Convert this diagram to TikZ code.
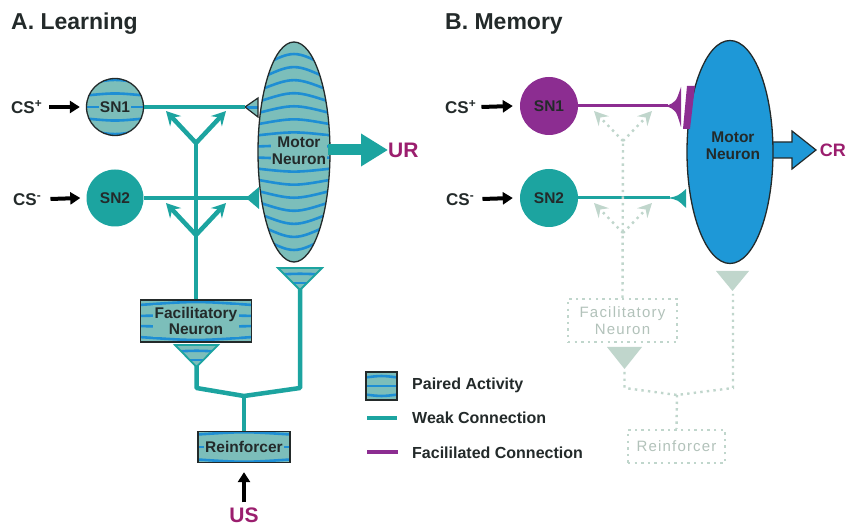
\documentclass[tikz,border=0pt]{standalone}
\usepackage{fontspec}
\setmainfont{Liberation Sans}
\usetikzlibrary{shapes.geometric,arrows.meta,calc}
\definecolor{teal1}{RGB}{28,164,160}
\definecolor{pbg}{RGB}{124,190,186}
\definecolor{stripeblue}{RGB}{30,142,212}
\definecolor{dark}{RGB}{35,42,42}
\definecolor{purp}{RGB}{140,45,145}
\definecolor{labp}{RGB}{155,30,110}
\definecolor{mblue}{RGB}{30,152,215}
\definecolor{fade}{RGB}{192,214,204}
\definecolor{fadetext}{RGB}{178,194,186}
\pgfdeclarelayer{back}
\pgfdeclarelayer{bg}
\pgfsetlayers{back,bg,main}
\tikzset{
 stripe/.style={draw=stripeblue, line width=2.6pt},
 striped/.style={path picture={
   \fill[pbg] (path picture bounding box.south west) rectangle (path picture bounding box.north east);
   \foreach \f in {#1} {
     \pgfmathsetmacro\g{\f+0.25*(\f-0.5)}
     \draw[stripe] ($(path picture bounding box.north west)!\f!(path picture bounding box.south west)+(-2,0)$) .. controls ($(path picture bounding box.north)!\g!(path picture bounding box.south)$) .. ($(path picture bounding box.north east)!\f!(path picture bounding box.south east)+(2,0)$);
   }}},
 title/.style={font=\fontsize{23}{26}\selectfont\bfseries, inner sep=0pt, anchor=west, text=dark},
 lab/.style={font=\fontsize{17}{19}\selectfont\bfseries, inner sep=0pt, anchor=west, text=dark},
 outlab/.style={font=\fontsize{21}{23}\selectfont\bfseries, text=labp, inner sep=0pt},
 ntext/.style={font=\fontsize{15.5}{18}\selectfont\bfseries, align=center, inner sep=1pt, text=dark},
 ktext/.style={ntext, fill=pbg},
 leg/.style={font=\fontsize{16}{18}\selectfont\bfseries, inner sep=0pt, anchor=west, text=dark},
 ftext/.style={font=\fontsize{15}{18}\selectfont\addfontfeatures{LetterSpace=8}, text=fadetext, align=center},
 weak/.style={draw=teal1, line width=3.5pt},
 weakv/.style={draw=teal1, line width=4.5pt, line join=round},
 facil/.style={draw=purp, line width=3pt},
 inarrow/.style={draw=black, line width=4pt, -{Triangle[length=10pt,width=12pt]}},
 branch/.style={draw=teal1, line width=4.5pt, -{Stealth[length=14pt,width=15pt,inset=5pt]}},
 dots/.style={draw=fade, line width=2.4pt, dash pattern=on 2.4pt off 4.2pt},
 fbranch/.style={dots, -{Stealth[length=14pt,width=14pt,inset=5pt,fill=fade]}},
 sncirc/.style={circle, minimum size=57pt, inner sep=0pt},
}
\begin{document}
\begin{tikzpicture}[x=1pt,y=-1pt]
\useasboundingbox (0,0) rectangle (847,526);
\begin{pgfonlayer}{back}
\fill[white] (0,0) rectangle (847,526);
\end{pgfonlayer}

% ================= Panel A =================
\node[title] (ta) at (11,24) {A. Learning};
\node[lab] (cspa) at (11,107) {CS\textsuperscript{+}};
\node[lab] (csma) at (13,200) {CS\textsuperscript{-}};

\node[sncirc, draw=dark, line width=1.3pt, striped={0.1,0.3,0.5,0.7,0.9}] (sn1a) at (115,107) {};
\node[ktext] at (sn1a) {SN1};
\node[sncirc, fill=teal1] (sn2a) at (115,198) {};
\node[ntext] at (sn2a) {SN2};

\node[ellipse, draw=dark, line width=1.3pt, minimum width=72pt, minimum height=220pt, inner sep=0pt,
      striped={0.025,0.075,...,0.98}] (mna) at (294,152) {};
\node[ktext] (mnat) at (299,151) {Motor\\[-1pt]Neuron};

\node[outlab, anchor=west] (ur) at (388,150) {UR};
\draw[draw=teal1, line width=11pt, -{Triangle[length=27pt,width=31pt]}] ($(mna.east)+(-3,-2)$) -- (ur.west);

\draw[inarrow] ($(cspa.east)+(7,0)$) -- ($(sn1a.west)+(-6,0)$);
\draw[inarrow] ($(csma.east)+(9,-1)$) -- ($(sn2a.west)+(-6,0)$);

% synapses onto motor neuron
\coordinate (s1a) at (245,107);
\path[draw=dark, line width=1.2pt, striped={0.5}] (245,107) -- (258,98) -- (258,117) -- cycle;
\draw[weak] (sn1a.east) -- (s1a);
\coordinate (s2a) at (248,198);
\fill[teal1] (246,198) -- (259,187) -- (259,209) -- cycle;
\draw[weak] (sn2a.east) -- (s2a);

% facilitatory neuron
\node[rectangle, draw=dark, line width=1.3pt, minimum width=111pt, minimum height=42pt,
      striped={0.12,0.38,0.62,0.88}] (faca) at (196,321) {};
\node[ktext, inner sep=2pt] at (faca) {Facilitatory\\[-2pt]Neuron};

\coordinate (ya1) at (196,143);
\coordinate (ya2) at (196,235);
\draw[weakv] (faca.north) -- (ya1);
\draw[branch] (ya1) -- (166,111);
\draw[branch] (ya1) -- (226,111);
\draw[branch] (ya2) -- (166,203);
\draw[branch] (ya2) -- (226,203);

% presynaptic terminals
\path[draw=teal1, line width=1.8pt, striped={0.3,0.68}] (175,345) -- (218,345) -- (196.5,367) -- cycle;
\coordinate (fta) at (196.5,366);
\path[draw=teal1, line width=1.8pt, striped={0.3,0.68}] (278,268) -- (322,268) -- (300,290) -- cycle;
\coordinate (mta) at (300,289);

\node[rectangle, draw=dark, line width=1.3pt, minimum width=92pt, minimum height=31pt,
      striped={0.1,0.5,0.9}] (reina) at (244,447) {};
\node[ktext, inner sep=1.5pt] at (reina) {Reinforcer};

\coordinate (jna) at (244,396);
\draw[weakv] (fta) -- (196.5,388) -- (jna) -- (300,388) -- (mta);
\draw[weakv] (jna) -- (reina.north);

\node[outlab] (usa) at (244,515) {US};
\draw[inarrow] ($(usa.north)+(0,-5)$) -- ($(reina.south)+(0,9)$);

% ================= Legend =================
\node[draw=dark, line width=1.2pt, minimum width=31pt, minimum height=28pt, inner sep=0pt,
      striped={0.2,0.5,0.8}] (legpa) at (381.5,386) {};
\node[leg] (legp) at (412,385) {Paired Activity};
\node[leg] (legw) at (412,418) {Weak Connection};
\node[leg] (legf) at (412,453) {Facililated Connection};
\draw[draw=teal1, line width=3.2pt] ($(legw.west)+(-45,0)$) -- ++(30,0);
\draw[draw=purp, line width=3.5pt] ($(legf.west)+(-45,-1)$) -- ++(31,0);

% ================= Panel B =================
\node[title] (tb) at (445,24) {B. Memory};
\node[lab] (cspb) at (445,107) {CS\textsuperscript{+}};
\node[lab] (csmb) at (446,200) {CS\textsuperscript{-}};

\node[sncirc, minimum size=58pt, fill=purp] (sn1b) at (549,106) {};
\node[ntext] at (sn1b) {SN1};
\node[sncirc, minimum size=58pt, fill=teal1] (sn2b) at (549,198) {};
\node[ntext] at (sn2b) {SN2};

\draw[inarrow] ($(cspb.east)+(5,0)$) -- ($(sn1b.west)+(-7,0)$);
\draw[inarrow] ($(csmb.east)+(8,-1)$) -- ($(sn2b.west)+(-7,0)$);

\node[ellipse, fill=mblue, draw=dark, line width=1.3pt, minimum width=86pt, minimum height=223pt, inner sep=0pt] (mnb) at (730,152) {};
\node[ntext] (mnbt) at (733,146) {Motor\\[-1pt]Neuron};

\begin{pgfonlayer}{bg}
\filldraw[fill=mblue, draw=dark, line width=1.2pt] (762,142) -- (792,142) -- (792,131) -- (816,150) -- (792,169) -- (792,158) -- (762,158) -- cycle;
\end{pgfonlayer}
\node[font=\fontsize{18}{20}\selectfont\bfseries, text=labp, inner sep=0pt, anchor=east] (cr) at (846,150) {CR};

% facilitated synapse SN1 -> MN
\coordinate (s1b) at (668,106);
\draw[facil] (sn1b.east) -- (s1b);
\fill[purp] (666,106) .. controls (676,102) .. (681,87) -- (681,127) .. controls (676,110) .. (666,106) -- cycle;
\fill[purp] (687,86) -- (695,86) -- (690,129) -- (683,129) -- cycle;
% weak synapse SN2 -> MN
\coordinate (s2b) at (670,198);
\draw[draw=teal1, line width=3pt] (sn2b.east) -- (s2b);
\fill[teal1] (668,198) .. controls (678,196) .. (686,189) -- (686,208) .. controls (678,200) .. (668,198) -- cycle;

% faded (inactive) facilitatory pathway
\node[dots, minimum width=109pt, minimum height=43pt, ftext] (facb) at (622.5,320.5) {Facilitatory\\[-1pt]Neuron};
\coordinate (yb1) at (623,141);
\coordinate (yb2) at (623,233);
\draw[dots] (facb.north) -- (yb1);
\draw[fbranch] (yb1) -- (594,111);
\draw[fbranch] (yb1) -- (652,111);
\draw[fbranch] (yb2) -- (594,203);
\draw[fbranch] (yb2) -- (652,203);

\fill[fade] (607,347) -- (642,347) -- (624.5,369) -- cycle;
\coordinate (ftb) at (624.5,372);
\fill[fade] (716,271) -- (749,271) -- (732.5,291) -- cycle;
\coordinate (mtb) at (733,294);

\node[dots, minimum width=97pt, minimum height=33pt, ftext] (reinb) at (676.5,446.5) {Reinforcer};
\coordinate (jnb) at (677,395);
\draw[dots] (ftb) -- (624.5,388) -- (jnb) -- (733,388) -- (mtb);
\draw[dots] (jnb) -- (reinb.north);
\end{tikzpicture}
\end{document}
